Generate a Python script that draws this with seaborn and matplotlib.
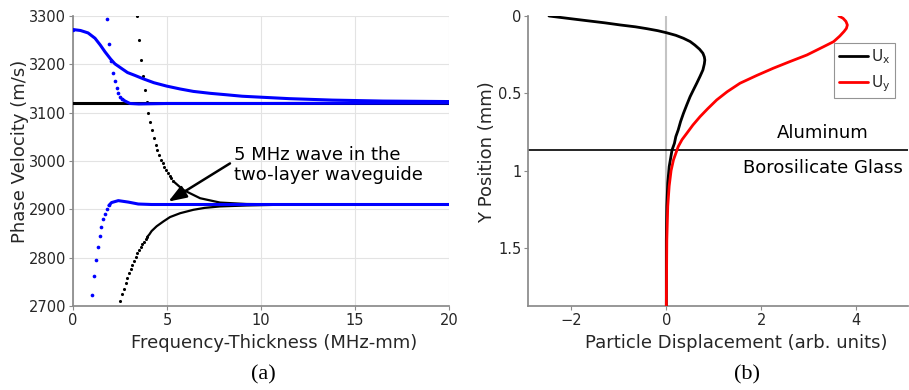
import numpy as np
import pandas as pd
import matplotlib
matplotlib.use("Agg")
import matplotlib.pyplot as plt
import seaborn as sns

# ---------------- data: panel (a) dispersion curves ----------------
# black flat mode
blk_flat_fd = [0.0, 5.0, 10.0, 15.0, 20.0]
blk_flat_v = [3121, 3121, 3121, 3121, 3121]

# blue upper mode (smooth decay)
blue_up_fd = [0.0, 0.4, 0.8, 1.17, 1.45, 1.7, 2.0, 2.23, 2.6, 2.9, 3.3, 3.74, 4.3, 4.98,
              5.7, 6.4, 7.3, 8.17, 9.0, 10.0, 11.5, 13.8, 16.5, 20.0]
blue_up_v = [3272, 3270, 3265, 3254, 3240, 3226, 3211, 3201, 3191, 3183, 3177, 3170, 3162, 3155,
             3149, 3144, 3140, 3137, 3134, 3132, 3129, 3126, 3124, 3123]

# blue steep mode settling at ~3119
blue_st_fd = [1.82, 1.91, 2.0, 2.11, 2.21, 2.32, 2.41, 2.52, 2.62, 2.77, 3.03, 3.5, 5.0, 10.0, 20.0]
blue_st_v = [3294, 3243, 3207, 3183, 3166, 3151, 3141, 3133, 3128, 3124, 3119, 3118, 3119, 3119, 3120]

# black steep mode falling to ~2910
blk_dn_fd = [3.40, 3.50, 3.61, 3.71, 3.81, 3.92, 4.01, 4.10, 4.20, 4.29, 4.40, 4.49, 4.59, 4.68,
             4.77, 4.86, 4.96, 5.05, 5.14, 5.23, 5.34, 5.87, 6.76, 7.82, 9.24, 12.0, 20.0]
blk_dn_v = [3300, 3250, 3210, 3176, 3147, 3122, 3100, 3080, 3064, 3048, 3034, 3023, 3012, 3003,
            2995, 2988, 2981, 2975, 2970, 2965, 2958, 2940, 2923, 2914, 2911, 2910, 2910]

# blue lower mode rising to ~2910
blue_lo_fd = [1.03, 1.12, 1.22, 1.31, 1.42, 1.51, 1.61, 1.70, 1.81, 1.91, 2.05, 2.41, 2.94,
              3.47, 4.18, 6.0, 10.0, 20.0]
blue_lo_v = [2723, 2763, 2796, 2823, 2845, 2864, 2879, 2890, 2900, 2908, 2914, 2918, 2915,
             2911, 2910, 2910, 2910, 2910]

# black lower mode rising to ~2910
blk_lo_fd = [2.52, 2.62, 2.71, 2.80, 2.89, 2.98, 3.07, 3.16, 3.24, 3.33, 3.42, 3.51, 3.60, 3.69,
             3.78, 3.86, 3.95, 4.06, 4.18, 4.45, 4.81, 5.16, 5.7, 6.4, 7.0, 7.82, 9.24, 11.0, 14.0, 20.0]
blk_lo_v = [2710, 2725, 2735, 2747, 2757, 2768, 2777, 2785, 2794, 2802, 2809, 2816, 2822, 2828,
            2833, 2838, 2843, 2848, 2855, 2865, 2875, 2884, 2892, 2899, 2903, 2906, 2908, 2909.5, 2910, 2910]

fd_ticks = [0, 5, 10, 15, 20]
v_ticks = [2700, 2800, 2900, 3000, 3100, 3200, 3300]

# ---------------- data: panel (b) displacement profiles ----------------
ux_u = [-2.47, -2.0, -1.68, -1.3, -0.97, -0.65, -0.41, -0.18, 0.0, 0.2, 0.36, 0.50, 0.60, 0.70,
        0.77, 0.80, 0.81, 0.80, 0.77, 0.71, 0.64, 0.57, 0.50, 0.43, 0.36, 0.30, 0.25, 0.20,
        0.17, 0.12, 0.06, 0.03, 0.01, 0.0, 0.0]
ux_d = [0.0, 0.018, 0.03, 0.044, 0.058, 0.07, 0.082, 0.095, 0.108, 0.125, 0.144, 0.165, 0.188, 0.215,
        0.241, 0.265, 0.285, 0.31, 0.349, 0.39, 0.435, 0.478, 0.522, 0.575, 0.630, 0.683, 0.737, 0.78,
        0.824, 0.867, 0.975, 1.08, 1.23, 1.45, 1.874]

uy_u = [3.63, 3.72, 3.78, 3.81, 3.79, 3.74, 3.65, 3.52, 3.30, 2.96, 2.60, 2.25, 1.90, 1.55,
        1.28, 1.06, 0.87, 0.71, 0.56, 0.43, 0.33, 0.25, 0.15, 0.10, 0.06, 0.03, 0.01, 0.0]
uy_d = [0.0, 0.015, 0.035, 0.058, 0.08, 0.10, 0.13, 0.166, 0.20, 0.252, 0.295, 0.338, 0.385, 0.435,
        0.49, 0.543, 0.60, 0.651, 0.705, 0.759, 0.80, 0.845, 0.931, 1.0, 1.10, 1.23, 1.45, 1.874]

interface_depth = 0.867
disp_ticks = [-2, 0, 2, 4]
depth_ticks = [0, 0.5, 1, 1.5]
depth_ticklabels = ["0", "0.5", "1", "1.5"]

# ---------------- style ----------------
sns.set_theme(style="white")
plt.rcParams["font.family"] = ["DejaVu Sans"]
TXT = "#262626"
SPINE = "#8a8a8a"
plt.rcParams.update({
    "axes.edgecolor": SPINE,
    "xtick.color": SPINE,
    "ytick.color": SPINE,
    "xtick.labelcolor": TXT,
    "ytick.labelcolor": TXT,
    "axes.labelcolor": TXT,
})

LABEL_FS = 13
TICK_FS = 10.5

fig = plt.figure(figsize=(9.09, 3.90), dpi=100)
ax1 = fig.add_axes([73 / 909, 84 / 390, 376 / 909, 290 / 390])
ax2 = fig.add_axes([528.3 / 909, 84.3 / 390, 379.4 / 909, 289.7 / 390])


def draw_mode(ax, fd, v, color, dense_from, lw, s):
    df = pd.DataFrame({"fd": fd, "v": v})
    sparse = df[df["fd"] <= dense_from]
    dense = df[df["fd"] >= dense_from]
    if len(dense) > 1:
        sns.lineplot(data=dense, x="fd", y="v", ax=ax, color=color, lw=lw,
                     sort=False, estimator=None, zorder=3)
    if len(sparse) > 0:
        sns.scatterplot(data=sparse, x="fd", y="v", ax=ax, color=color, s=s,
                        linewidth=0, zorder=3)


# black modes first, blue on top
draw_mode(ax1, blk_flat_fd, blk_flat_v, "black", 0.0, 2.2, 5)
draw_mode(ax1, blk_dn_fd, blk_dn_v, "black", 5.34, 1.6, 5)
draw_mode(ax1, blk_lo_fd, blk_lo_v, "black", 3.95, 1.6, 5)
draw_mode(ax1, blue_up_fd, blue_up_v, "#0000ff", 0.0, 2.2, 6)
draw_mode(ax1, blue_st_fd, blue_st_v, "#0000ff", 2.62, 2.2, 7)
draw_mode(ax1, blue_lo_fd, blue_lo_v, "#0000ff", 1.91, 2.2, 7)

ax1.set_xlim(0, 20)
ax1.set_ylim(2700, 3300)
ax1.set_xticks(fd_ticks)
ax1.set_yticks(v_ticks)
ax1.grid(True, color="#e3e3e3", lw=0.8)
ax1.set_axisbelow(True)
for sp in ["top", "right"]:
    ax1.spines[sp].set_visible(False)
ax1.tick_params(axis="both", labelsize=TICK_FS, length=3, width=0.8, direction="out", pad=2,
                left=True, bottom=True)
ax1.set_xlabel("Frequency-Thickness (MHz-mm)", fontsize=LABEL_FS)
ax1.set_ylabel("Phase Velocity (m/s)", fontsize=LABEL_FS)
ax1.xaxis.set_label_coords(0.536, -0.098)
ax1.yaxis.set_label_coords(-0.118, 0.534)

ax1.annotate("", xy=(5.07, 2916), xytext=(8.35, 2995),
             arrowprops=dict(arrowstyle="-|>,head_length=0.6,head_width=0.22",
                             mutation_scale=18, color="black", lw=1.8,
                             shrinkA=0, shrinkB=0), zorder=5)
ax1.text(8.55, 2992, "5 MHz wave in the\ntwo-layer waveguide", fontsize=LABEL_FS,
         color="black", ha="left", va="center", linespacing=1.1, zorder=5)

# ---------------- panel (b) ----------------
ax2.axvline(0, color="#c4c4c4", lw=1.5, zorder=1)
ax2.axhline(interface_depth, color="black", lw=1.2, zorder=2)
sns.lineplot(x=ux_u, y=ux_d, ax=ax2, color="black", lw=2.0, sort=False, estimator=None,
             label="U$_\\mathregular{x}$", zorder=3)
sns.lineplot(x=uy_u, y=uy_d, ax=ax2, color="#ff0000", lw=2.0, sort=False, estimator=None,
             label="U$_\\mathregular{y}$", zorder=3)
ax2.set_xlim(-2.905, 5.08)
ax2.set_ylim(1.874, 0)
ax2.set_xticks(disp_ticks)
ax2.set_yticks(depth_ticks)
ax2.set_yticklabels(depth_ticklabels)
for sp in ["top", "right"]:
    ax2.spines[sp].set_visible(False)
ax2.tick_params(axis="both", labelsize=TICK_FS, length=3, width=0.8, direction="out", pad=2,
                left=True, bottom=True)
ax2.set_xlabel("Particle Displacement (arb. units)", fontsize=LABEL_FS)
ax2.set_ylabel("Y Position (mm)", fontsize=LABEL_FS)
ax2.xaxis.set_label_coords(0.549, -0.098)
ax2.yaxis.set_label_coords(-0.085, 0.529)

ax2.text(3.30, 0.757, "Aluminum", fontsize=LABEL_FS, color="black", ha="center", va="center")
ax2.text(3.30, 0.983, "Borosilicate Glass", fontsize=LABEL_FS, color="black", ha="center", va="center")

leg = ax2.legend(loc="upper right", bbox_to_anchor=(0.9665, 0.9068), borderaxespad=0,
                 fontsize=11, frameon=True, fancybox=False, handlelength=1.9,
                 handletextpad=0.2, borderpad=0.3, labelspacing=0.45)
leg.get_frame().set_edgecolor("#7a7a7a")
leg.get_frame().set_linewidth(0.8)

# captions
fig.text(263.5 / 909, 1 - 375 / 390, "(a)", fontsize=16, family="Liberation Serif",
         ha="center", va="center", color="black")
fig.text(746.7 / 909, 1 - 375 / 390, "(b)", fontsize=16, family="Liberation Serif",
         ha="center", va="center", color="black")

fig.savefig("out.png", dpi=100)
